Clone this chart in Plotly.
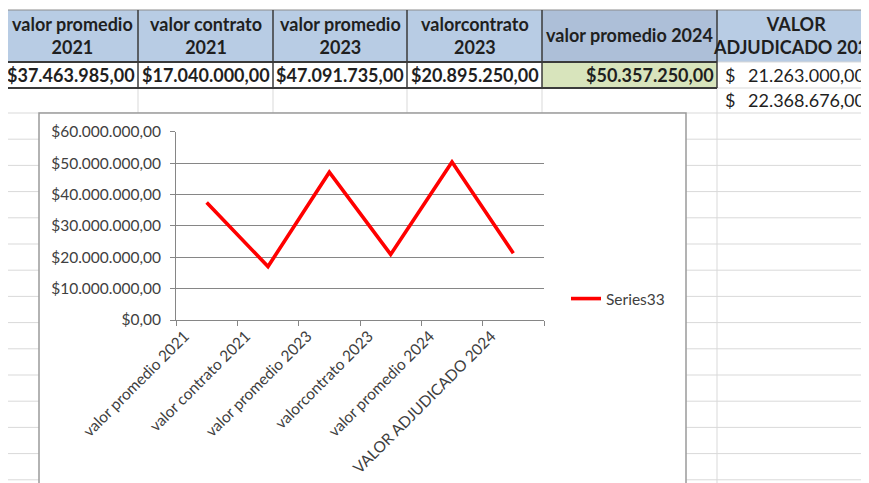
import plotly.graph_objects as go

# ---- data ----
categories = ["valor promedio 2021", "valor contrato 2021", "valor promedio 2023",
              "valorcontrato 2023", "valor promedio 2024", "VALOR ADJUDICADO 2024"]
header_labels = ["valor promedio<br>2021", "valor contrato<br>2021", "valor promedio<br>2023",
                 "valorcontrato<br>2023", "valor promedio 2024", "VALOR<br>ADJUDICADO 2024"]
series33 = [37463985, 17040000, 47091735, 20895250, 50357250, 21263000]
extra_adjudicado = [22368676]
series_name = "Series33"

# ---- page geometry (pixels of the screenshot) ----
W, H = 869, 483
OFF = 8                      # the page body margin pushes the figure by 8px
FW, FH = W - OFF, H - OFF
col_edges = [7, 138, 273, 407, 542, 717, 877]
row_edges = [10, 62, 88, 113]
row_step = 26.2
chart_box = (39, 113, 686, 495)
plot_x = (176, 544)
plot_y = (131.7, 320)

light = "#D9D9D9"
dark = "#3A3A3A"
txt = "#1F1F1F"
header_fill = ["#B8CCE4", "#B8CCE4", "#B8CCE4", "#B8CCE4", "#ADBFD8", "#B8CCE4"]
value_fill = [None, None, None, None, "#D8E4BC", None]


def px(x):
    return (x - OFF) / FW


def py(y):
    return 1 - (y - OFF) / FH


def es_money(v):
    s = f"{v:,.2f}"
    return s.replace(",", "X").replace(".", ",").replace("X", ".")


shapes = []


def line(x0, y0, x1, y1, color, width):
    shapes.append(dict(type="line", xref="paper", yref="paper", layer="below",
                       x0=px(x0), x1=px(x1), y0=py(y0), y1=py(y1),
                       line=dict(color=color, width=width)))


def rect(x0, y0, x1, y1, fill, color=None, width=0):
    shapes.append(dict(type="rect", xref="paper", yref="paper", layer="below",
                       x0=px(x0), x1=px(x1), y0=py(y0), y1=py(y1), fillcolor=fill,
                       line=dict(color=color or fill, width=width)))


# sheet fills
for i in range(len(header_labels)):
    rect(col_edges[i], row_edges[0], col_edges[i + 1], row_edges[1], header_fill[i])
    if value_fill[i]:
        rect(col_edges[i], row_edges[1], col_edges[i + 1], row_edges[2], value_fill[i])

# light sheet gridlines
line(col_edges[-2], row_edges[1], W, row_edges[1], light, 1)
line(col_edges[-2], row_edges[2], W, row_edges[2], light, 1)
y = row_edges[3]
while y < H:
    line(col_edges[0], y, W, y, light, 1)
    y += row_step
for x in col_edges[1:-1]:
    line(x, row_edges[2], x, H, light, 1)

# table borders
line(col_edges[0], row_edges[0], W, row_edges[0], "#8C8C8C", 1)
line(col_edges[0], row_edges[1], col_edges[-2], row_edges[1], dark, 2)
line(col_edges[0], row_edges[2], col_edges[-2], row_edges[2], dark, 2)
for x in col_edges[1:-1]:
    line(x, row_edges[0], x, row_edges[2], dark, 1.5)

# chart box
rect(*chart_box, "white", "#9A9A9A", 1.5)

# cell texts
annotations = []
bold = dict(family="Lato", size=18, color=txt, weight="bold")
plain = dict(family="Lato", size=18, color=txt)
for i, lab in enumerate(header_labels):
    cx = (col_edges[i] + col_edges[i + 1]) / 2 if i < 5 else 796
    annotations.append(dict(xref="paper", yref="paper", x=px(cx), y=py(35), text=lab,
                            showarrow=False, xanchor="center", yanchor="middle",
                            font=bold, align="center"))
for i, v in enumerate(series33[:5]):
    annotations.append(dict(xref="paper", yref="paper", x=px(col_edges[i + 1] - 1), y=py(75),
                            text="$" + es_money(v), showarrow=False, xanchor="right",
                            yanchor="middle", font=bold))
for j, v in enumerate([series33[5]] + extra_adjudicado):
    yc = (row_edges[1 + j] + row_edges[2 + j]) / 2
    annotations.append(dict(xref="paper", yref="paper", x=px(col_edges[5] + 6), y=py(yc),
                            text="$", showarrow=False, xanchor="left", yanchor="middle", font=plain))
    annotations.append(dict(xref="paper", yref="paper", x=px(867), y=py(yc),
                            text=es_money(v), showarrow=False, xanchor="right",
                            yanchor="middle", font=plain))

fig = go.Figure()
fig.add_trace(go.Scatter(x=categories, y=series33, mode="lines", name=series_name,
                         line=dict(color="#FF0000", width=3.6)))

axis_grey = "#868686"
chart_font = dict(family="Lato", size=15.5, color="#404040")

fig.update_layout(
    width=FW, height=FH,
    margin=dict(l=0, r=0, t=0, b=0, autoexpand=False),
    paper_bgcolor="white",
    plot_bgcolor="rgba(0,0,0,0)",
    separators=",.",
    font=chart_font,
    shapes=shapes,
    annotations=annotations,
    showlegend=True,
    legend=dict(x=px(566), y=py(299), xanchor="left", yanchor="middle",
                bgcolor="rgba(0,0,0,0)", font=chart_font),
    xaxis=dict(domain=[px(plot_x[0]), px(plot_x[1])], type="category", automargin=False,
               range=[-0.5, len(categories) - 0.5],
               tickson="boundaries", ticks="outside", ticklen=5, tickcolor=axis_grey,
               showline=True, linecolor=axis_grey, showgrid=False, tickangle=-45,
               tickfont=chart_font, ticklabelshift=-22),
    yaxis=dict(domain=[py(plot_y[1]), py(plot_y[0])], range=[0, 6e7], dtick=1e7,
               automargin=False,
               tickprefix="$", tickformat=",.2f", ticks="outside", ticklen=5,
               tickcolor=axis_grey, showline=True, linecolor=axis_grey,
               gridcolor=axis_grey, zeroline=False, tickfont=chart_font,
               ticklabelstandoff=6),
)

fig.write_html("out.html")
